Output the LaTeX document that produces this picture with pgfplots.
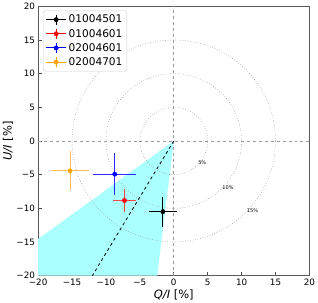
\documentclass[border=0pt]{standalone}
\usepackage{fontspec}
\setmainfont{DejaVu Sans}
\usepackage{pgfplots}
\pgfplotsset{compat=1.18}
\definecolor{lcyan}{RGB}{170,255,255}
\definecolor{mplorange}{RGB}{255,165,0}
\definecolor{mplorangeL}{RGB}{255,190,90}
\definecolor{mplred}{RGB}{255,0,0}
\definecolor{mplredL}{RGB}{255,70,70}
\definecolor{mplblue}{RGB}{0,0,255}
\definecolor{mplblueL}{RGB}{40,40,255}
\begin{document}
\fontsize{9bp}{11bp}\selectfont
\begin{tikzpicture}
\begin{axis}[
  scale only axis,
  width=272bp, height=270bp,
  xmin=-20, xmax=20, ymin=-20, ymax=20,
  xtick={-20,-15,-10,-5,0,5,10,15,20},
  xticklabels={−20,−15,−10,−5,0,5,10,15,20},
  ytick={-20,-15,-10,-5,0,5,10,15,20},
  yticklabels={−20,−15,−10,−5,0,5,10,15,20},
  tick align=inside, xtick pos=bottom, ytick pos=left,
  major tick length=3.5bp,
  tick style={black!70, line width=0.6pt},
  axis line style={black!65, line width=0.9pt},
  tick label style={font=\fontsize{8.8bp}{10bp}\selectfont},
  xlabel={{\itshape Q/I} [\%]},
  ylabel={{\itshape U/I} [\%]},
  label style={font=\fontsize{11.5bp}{13bp}\selectfont},
  xlabel style={yshift=2bp},
  ylabel style={yshift=-3bp},
  clip=true,
  legend cell align=left,
  legend style={at={(0.018,0.985)}, anchor=north west, draw=black!20, rounded corners=2pt,
    font=\fontsize{10.6bp}{12bp}\selectfont, row sep=1bp, inner sep=2.5bp},
  legend image code/.code={
    \draw[#1, line width=1pt] (0bp,0bp) -- (20bp,0bp);
    \draw[#1, line width=1pt] (10bp,-5bp) -- (10bp,5bp);
    \fill[#1] (10bp,0bp) circle (2.2bp);
  },
]
% cyan wedge
\addplot[fill=lcyan, draw=none, forget plot] coordinates {(0,0) (-20,-14.56) (-20,-20) (-2.45,-20)} -- cycle;
% reference lines
\addplot[black!40, dashed, line width=0.6pt, forget plot] coordinates {(0,-20) (0,20)};
\addplot[black!40, dashed, line width=0.6pt, forget plot] coordinates {(-20,0) (20,0)};
% circles
\draw[black!45, dotted, line width=0.55pt] (axis cs:0,0) ellipse [x radius=5, y radius=5];
\draw[black!45, dotted, line width=0.55pt] (axis cs:0,0) ellipse [x radius=10, y radius=10];
\draw[black!45, dotted, line width=0.55pt] (axis cs:0,0) ellipse [x radius=15, y radius=15];
\node[font=\fontsize{5bp}{6bp}\selectfont, inner sep=0.3bp] at (axis cs:4.2,-3.3) {5\%};
\node[font=\fontsize{5bp}{6bp}\selectfont, inner sep=0.3bp] at (axis cs:8.0,-6.9) {10\%};
\node[font=\fontsize{5bp}{6bp}\selectfont, inner sep=0.3bp] at (axis cs:11.6,-10.4) {15\%};
% dashed line
\addplot[black, dashed, line width=0.8pt, forget plot] coordinates {(0,0) (-12,-20)};
% data
\addplot[black, only marks, mark=*, mark size=2.2bp,
  error bars/.cd, x dir=both, x explicit, y dir=both, y explicit,
  error bar style={line width=1pt, black}, error mark=none]
  coordinates {(-1.6,-10.5) +- (2.1,2.25)};
\addlegendentry{01004501}
\addplot[mplred, only marks, mark=*, mark size=2.2bp,
  error bars/.cd, x dir=both, x explicit, y dir=both, y explicit,
  error bar style={line width=1pt, mplredL}, error mark=none]
  coordinates {(-7.27,-8.84) +- (1.75,1.7)};
\addlegendentry{01004601}
\addplot[mplblue, only marks, mark=*, mark size=2.2bp,
  error bars/.cd, x dir=both, x explicit, y dir=both, y explicit,
  error bar style={line width=1pt, mplblueL}, error mark=none]
  coordinates {(-8.7,-4.93) +- (3.2,3.1)};
\addlegendentry{02004601}
\addplot[mplorange, only marks, mark=*, mark size=2.2bp,
  error bars/.cd, x dir=both, x explicit, y dir=both, y explicit,
  error bar style={line width=1pt, mplorangeL}, error mark=none]
  coordinates {(-15.3,-4.44) +- (2.85,2.9)};
\addlegendentry{02004701}
\end{axis}
\end{tikzpicture}
\end{document}
